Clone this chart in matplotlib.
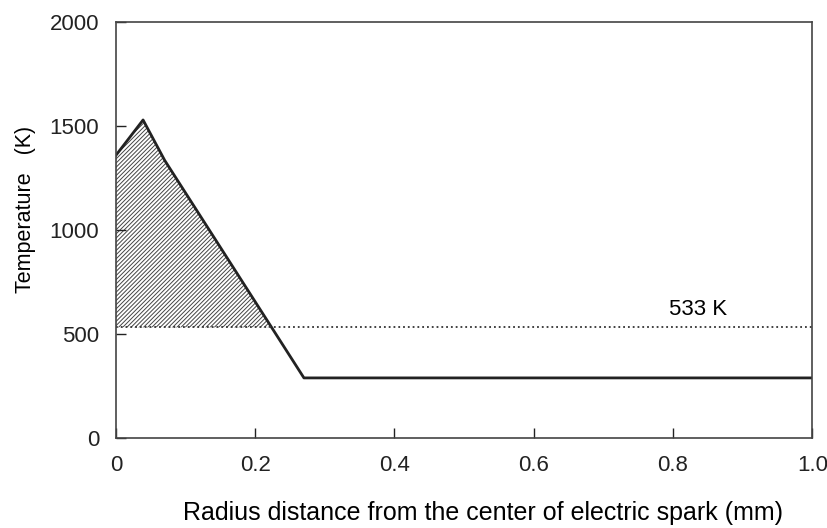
import numpy as np
import matplotlib.pyplot as plt

plt.rcParams['font.family'] = ['Liberation Sans', 'DejaVu Sans']
plt.rcParams['hatch.linewidth'] = 0.7

# Temperature profile
radius = [0.0, 0.039, 0.07, 0.27, 1.0]
temperature = [1360, 1530, 1336, 290, 290]
threshold = 533

xticks = [0, 0.2, 0.4, 0.6, 0.8, 1.0]
xtick_labels = ['0', '0.2', '0.4', '0.6', '0.8', '1.0']
yticks = [0, 500, 1000, 1500, 2000]

fig = plt.figure(figsize=(8.28, 5.28), dpi=100)
ax = fig.add_axes([0.140, 0.170, 0.841, 0.788])

# hatched region above 533 K
xf = np.linspace(0, 0.27, 400)
yf = np.interp(xf, radius, temperature)
ax.fill_between(xf, threshold, yf, where=yf >= threshold, interpolate=True,
                facecolor='white', edgecolor='#444444', hatch='////////', linewidth=0)

ax.plot(radius, temperature, color='#222222', linewidth=2, solid_joinstyle='round')
ax.axhline(threshold, color='#333333', linestyle=':', linewidth=1.3)
ax.text(0.836, 620, '533 K', fontsize=16, ha='center', va='center')

ax.set_xlim(0, 1.0)
ax.set_ylim(0, 2000)
ax.set_xticks(xticks)
ax.set_xticklabels(xtick_labels)
ax.set_yticks(yticks)
ax.tick_params(direction='in', length=7, width=1, labelsize=16, pad=12, colors='#222222')
ax.tick_params(axis='x', pad=12)
for s in ax.spines.values():
    s.set_color('#444444')
    s.set_linewidth(1.2)

ax.set_xlabel('Radius distance from the center of electric spark (mm)', fontsize=18)
ax.xaxis.set_label_coords(0.527, -0.152)
ax.set_ylabel('Temperature   (K)', fontsize=15.5)
ax.yaxis.set_label_coords(-0.115, 0.55)

fig.savefig('out.png', dpi=100)
